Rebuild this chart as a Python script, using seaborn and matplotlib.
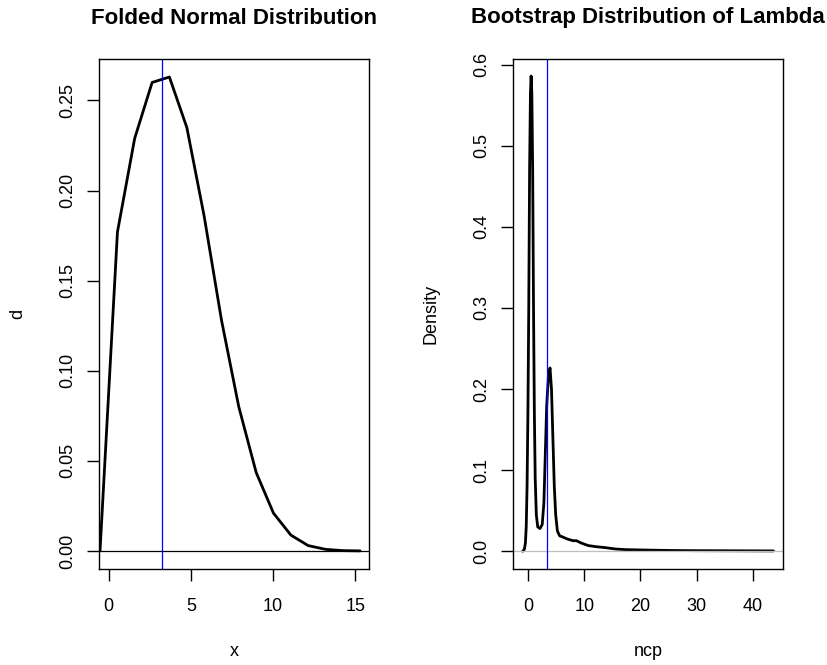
import matplotlib
matplotlib.use("Agg")
import matplotlib.pyplot as plt
import seaborn as sns
import pandas as pd

# ---- data: folded normal density (left panel)
fold_x = [-0.53, 0.53, 1.58, 2.64, 3.69, 4.75, 5.80, 6.86, 7.91, 8.97,
          10.02, 11.08, 12.13, 13.19, 14.24, 15.29]
fold_d = [0.0, 0.177, 0.229, 0.260, 0.263, 0.235, 0.186, 0.128, 0.080, 0.0435,
          0.021, 0.0088, 0.0030, 0.0009, 0.0002, 0.00005]
fold_vline = 3.22

# ---- data: bootstrap density of lambda (right panel)
ncp_x = [-0.98, -0.7, -0.5, -0.35, -0.2, -0.05, 0.1, 0.25, 0.4, 0.52,
         0.65, 0.8, 0.95, 1.1, 1.25, 1.45, 1.7, 2.1, 2.5, 2.8,
         3.05, 3.3, 3.6, 3.89, 4.15, 4.4, 4.65, 4.9, 5.2, 5.6,
         6.0, 7.0, 8.0, 8.6, 9.5, 10.7, 12.0, 13.7, 15.5, 17.3,
         20.0, 23.0, 26.0, 30.0, 35.0, 40.0, 43.7]
ncp_dens = [0.0, 0.002, 0.01, 0.03, 0.08, 0.17, 0.30, 0.47, 0.565, 0.586,
            0.565, 0.47, 0.30, 0.17, 0.09, 0.045, 0.03, 0.028, 0.033, 0.06,
            0.12, 0.18, 0.215, 0.226, 0.20, 0.14, 0.08, 0.045, 0.025, 0.019,
            0.018, 0.015, 0.013, 0.013, 0.010, 0.007, 0.0057, 0.0045, 0.0028, 0.002,
            0.0016, 0.0012, 0.0009, 0.0007, 0.0006, 0.0005, 0.0004]
ncp_vline = 3.35

left_xticks = [0, 5, 10, 15]
left_yticks = [0.00, 0.05, 0.10, 0.15, 0.20, 0.25]
right_xticks = [0, 10, 20, 30, 40]
right_yticks = [0.0, 0.1, 0.2, 0.3, 0.4, 0.5, 0.6]

sns.set_style("ticks")
plt.rcParams['font.family'] = ['Liberation Sans', 'DejaVu Sans']
plt.rcParams['text.color'] = 'black'
plt.rcParams['axes.labelcolor'] = 'black'
plt.rcParams['xtick.color'] = 'black'
plt.rcParams['ytick.color'] = 'black'

W, H = 828, 665
fig = plt.figure(figsize=(W / 100, H / 100), dpi=100)

def px_axes(x0, x1, y0, y1):
    return fig.add_axes([x0 / W, 1 - y1 / H, (x1 - x0) / W, (y1 - y0) / H])

axL = px_axes(98.7, 369.0, 59.0, 569.0)
axR = px_axes(512.7, 783.0, 59.0, 569.0)

df_fold = pd.DataFrame({"x": fold_x, "d": fold_d})
df_ncp = pd.DataFrame({"ncp": ncp_x, "Density": ncp_dens})

sns.lineplot(data=df_fold, x="x", y="d", ax=axL, color="black", lw=2.0, sort=False)
axL.axhline(0, color="black", lw=0.9)
axL.axvline(fold_vline, color="#0000FF", lw=0.9)
axL.set_xlim(-0.61, 15.83)
axL.set_ylim(-0.0100, 0.2730)

sns.lineplot(data=df_ncp, x="ncp", y="Density", ax=axR, color="black", lw=2.0, sort=False)
axR.axhline(0, color="#BEBEBE", lw=0.9)
axR.axvline(ncp_vline, color="#0000FF", lw=0.9)
axR.set_xlim(-2.76, 45.4)
axR.set_ylim(-0.0219, 0.607)

def style(ax, xt, yt, yfmt):
    ax.set_xticks(xt)
    ax.set_yticks(yt)
    ax.set_xticklabels([str(v) for v in xt])
    ax.set_yticklabels([yfmt.format(v) for v in yt])
    ax.set_xlabel("")
    ax.set_ylabel("")
    for s in ax.spines.values():
        s.set_visible(True)
        s.set_linewidth(1.0)
        s.set_color("black")
    ax.tick_params(axis='both', direction='out', length=8.5, width=1.0,
                   labelsize=13, colors="black", labelcolor="black")
    ax.tick_params(axis='x', pad=12.5)
    ax.tick_params(axis='y', pad=8, labelrotation=90)
    for lab in ax.get_yticklabels():
        lab.set_va('center')
    ax.grid(False)

style(axL, left_xticks, left_yticks, "{:.2f}")
style(axR, right_xticks, right_yticks, "{:.1f}")

# titles and axis labels
fig.text(233.9 / W, 1 - 18 / H, "Folded Normal Distribution", ha="center", va="center",
         fontsize=16, fontweight="bold", color="black")
fig.text(647.9 / W, 1 - 18 / H, "Bootstrap Distribution of Lambda", ha="center", va="center",
         fontsize=16, fontweight="bold", color="black")
fig.text(233.9 / W, 1 - 651 / H, "x", ha="center", va="center", fontsize=13, color="black")
fig.text(647.9 / W, 1 - 651 / H, "ncp", ha="center", va="center", fontsize=13, color="black")
fig.text(18 / W, 1 - 314 / H, "d", ha="center", va="center", rotation=90, fontsize=13, color="black")
fig.text(431 / W, 1 - 314 / H, "Density", ha="center", va="center", rotation=90, fontsize=13, color="black")

fig.savefig("out.png", dpi=100)
